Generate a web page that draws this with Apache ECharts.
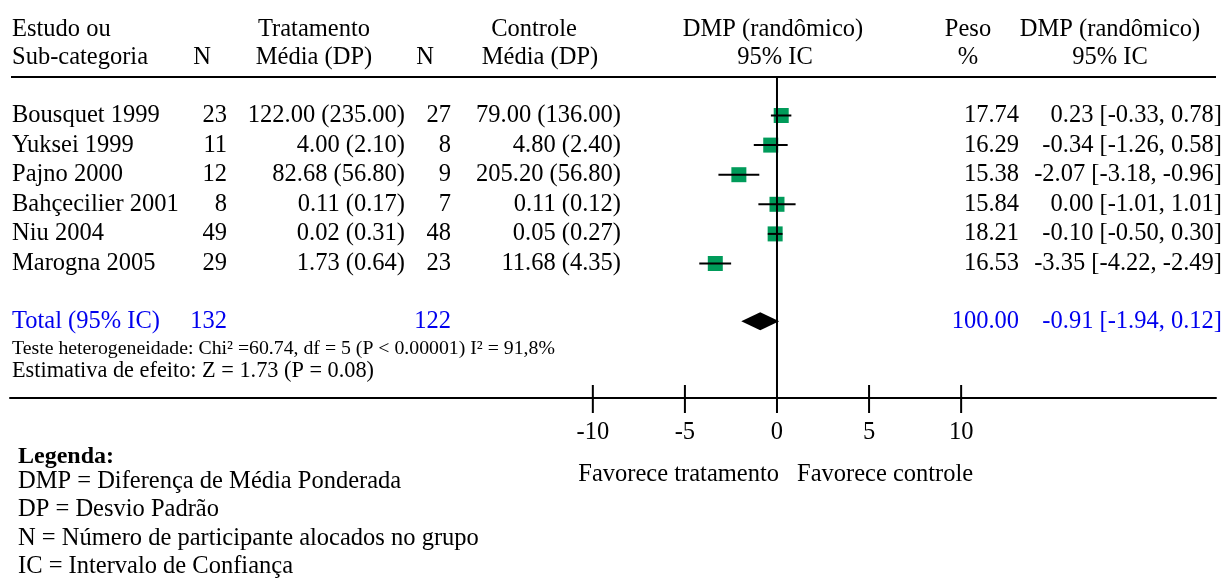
<!DOCTYPE html>
<html><head><meta charset="utf-8">
<script src="https://cdn.jsdelivr.net/npm/echarts@6/dist/echarts.min.js"></script>
<style>html,body{margin:0;padding:0;background:#fff}#c{width:1226px;height:580px}</style>
</head><body><div id="c"></div>
<script>
// ---------- data ----------
const studies   = ['Bousquet 1999','Yuksei 1999','Pajno 2000','Bahçecilier 2001','Niu 2004','Marogna 2005'];
const nTreat    = [23, 11, 12, 8, 49, 29];
const meanTreat = [122.00, 4.00, 82.68, 0.11, 0.02, 1.73];
const sdTreat   = [235.00, 2.10, 56.80, 0.17, 0.31, 0.64];
const nCtrl     = [27, 8, 9, 7, 48, 23];
const meanCtrl  = [79.00, 4.80, 205.20, 0.11, 0.05, 11.68];
const sdCtrl    = [136.00, 2.40, 56.80, 0.12, 0.27, 4.35];
const weights   = [17.74, 16.29, 15.38, 15.84, 18.21, 16.53];
const md        = [0.23, -0.34, -2.07, 0.00, -0.10, -3.35];
const ciLow     = [-0.33, -1.26, -3.18, -1.01, -0.50, -4.22];
const ciHigh    = [0.78, 0.58, -0.96, 1.01, 0.30, -2.49];
const totalLabel = 'Total (95% IC)';
const totalNTreat = 132, totalNCtrl = 122, totalWeight = 100.00;
const totalMd = -0.91, totalLow = -1.94, totalHigh = 0.12;
const tickValues = [-10, -5, 0, 5, 10];
const heterogeneityText = 'Teste heterogeneidade: Chi² =60.74, df = 5 (P < 0.00001) I² = 91,8%';
const effectText = 'Estimativa de efeito: Z = 1.73 (P = 0.08)';
const favorLeft = 'Favorece tratamento', favorRight = 'Favorece controle';
const legendTitle = 'Legenda:';
const legendLines = ['DMP = Diferença de Média Ponderada','DP = Desvio Padrão','N = Número de participante alocados no grupo','IC = Intervalo de Confiança'];

// ---------- layout / style ----------
const FF = '"Liberation Serif","Times New Roman",serif';
const FS = 24.5;
const f = (s, w) => (w ? w + ' ' : '') + s + 'px ' + FF;
const BLUE = '#0000EE', GREEN = '#009B5A';
const fx = v => v.toFixed(2);
const ciText = (m, l, h) => fx(m) + ' [' + fx(l) + ', ' + fx(h) + ']';
const TOTAL_ROW = 6.95;
const X_MIN = -41.65, X_MAX = 23.84;
const Y_MIN = -1.3007, Y_MAX = 9.5439;

const chart = echarts.init(document.getElementById('c'), null, {renderer: 'canvas'});

function txt(text, x, y, align, font, color) {
  return {type: 'text', x: x, y: y, silent: true,
    style: {text: text, align: align, verticalAlign: 'middle', font: font, fill: color || '#000'}};
}

const legendY = [482, 510, 539, 567];
const headers = [
  txt('Estudo ou', 12, 29.5, 'left', f(FS)),
  txt('Sub-categoria', 12, 57.5, 'left', f(FS)),
  txt('N', 202, 57.5, 'center', f(FS)),
  txt('Tratamento', 314, 29.5, 'center', f(FS)),
  txt('Média (DP)', 314, 57.5, 'center', f(FS)),
  txt('N', 425, 57.5, 'center', f(FS)),
  txt('Controle', 534, 29.5, 'center', f(FS)),
  txt('Média (DP)', 540, 57.5, 'center', f(FS)),
  txt('DMP (randômico)', 773, 29.5, 'center', f(FS)),
  txt('95% IC', 775, 57.5, 'center', f(FS)),
  txt('Peso', 968, 29.5, 'center', f(FS)),
  txt('%', 968, 57.5, 'center', f(FS)),
  txt('DMP (randômico)', 1110, 29.5, 'center', f(FS)),
  txt('95% IC', 1110, 57.5, 'center', f(FS)),
  {type: 'line', silent: true, shape: {x1: 11, y1: 77, x2: 1216, y2: 77}, style: {stroke: '#000', lineWidth: 2}},
  txt(heterogeneityText, 12, 348.5, 'left', f(19.8)),
  txt(effectText, 12, 371, 'left', f(22.3)),
  txt(favorLeft, 779, 475, 'right', f(FS)),
  txt(favorRight, 797, 475, 'left', f(FS)),
  txt(legendTitle, 18, 457, 'left', f(24, 'bold')),
].concat(legendLines.map((s, i) => txt(s, 18, legendY[i], 'left', f(FS))));

const rowData = studies.map((s, i) => [0, i]);
rowData.push([0, TOTAL_ROW]);

const option = {
  animation: false,
  backgroundColor: '#fff',
  grid: {left: 10, right: 10, top: 77, bottom: 182, containLabel: false},
  xAxis: {
    type: 'value', min: X_MIN, max: X_MAX,
    axisLine: {show: true, onZero: false, lineStyle: {color: '#000', width: 2}},
    axisTick: {show: false},
    splitLine: {show: false},
    axisLabel: {show: true, customValues: tickValues, margin: 22, color: '#000', fontSize: FS, fontFamily: FF,
      formatter: v => String(v)}
  },
  yAxis: {type: 'value', inverse: true, min: Y_MIN, max: Y_MAX, show: false},
  graphic: headers,
  series: [
    { // text columns
      type: 'custom', silent: true, z: 3,
      data: rowData,
      renderItem: function (params, api) {
        const i = api.value(1);
        const y = api.coord([0, i])[1];
        if (i === TOTAL_ROW) {
          return {type: 'group', children: [
            txt(totalLabel, 12, y, 'left', f(FS), BLUE),
            txt(String(totalNTreat), 227, y, 'right', f(FS), BLUE),
            txt(String(totalNCtrl), 451, y, 'right', f(FS), BLUE),
            txt(fx(totalWeight), 1019, y, 'right', f(FS), BLUE),
            txt(ciText(totalMd, totalLow, totalHigh), 1222, y, 'right', f(FS), BLUE)
          ]};
        }
        return {type: 'group', children: [
          txt(studies[i], 12, y, 'left', f(FS)),
          txt(String(nTreat[i]), 227, y, 'right', f(FS)),
          txt(fx(meanTreat[i]) + ' (' + fx(sdTreat[i]) + ')', 405, y, 'right', f(FS)),
          txt(String(nCtrl[i]), 451, y, 'right', f(FS)),
          txt(fx(meanCtrl[i]) + ' (' + fx(sdCtrl[i]) + ')', 621, y, 'right', f(FS)),
          txt(fx(weights[i]), 1019, y, 'right', f(FS)),
          txt(ciText(md[i], ciLow[i], ciHigh[i]), 1222, y, 'right', f(FS))
        ]};
      }
    },
    { // study squares + CI lines
      type: 'custom', silent: true, z: 4,
      data: md.map((m, i) => [m, i, ciLow[i], ciHigh[i]]),
      renderItem: function (params, api) {
        const p = api.coord([api.value(0), api.value(1)]);
        const l = api.coord([api.value(2), api.value(1)]);
        const h = api.coord([api.value(3), api.value(1)]);
        const s = 15;
        return {type: 'group', children: [
          {type: 'rect', shape: {x: p[0] - s / 2, y: p[1] - s / 2, width: s, height: s}, style: {fill: GREEN}},
          {type: 'line', shape: {x1: l[0], y1: l[1], x2: h[0], y2: h[1]}, style: {stroke: '#000', lineWidth: 2}}
        ]};
      }
    },
    { // pooled diamond
      type: 'custom', silent: true, z: 4,
      data: [[totalMd, TOTAL_ROW, totalLow, totalHigh]],
      renderItem: function (params, api) {
        const p = api.coord([api.value(0), api.value(1)]);
        const l = api.coord([api.value(2), api.value(1)]);
        const h = api.coord([api.value(3), api.value(1)]);
        const hh = 9;
        return {type: 'polygon', shape: {points: [[l[0], l[1]], [p[0], p[1] - hh], [h[0], h[1]], [p[0], p[1] + hh]]},
          style: {fill: '#000'}};
      }
    },
    { // zero line + axis ticks
      type: 'custom', silent: true, z: 5,
      data: tickValues.map(v => [v, Y_MAX]),
      renderItem: function (params, api) {
        const v = api.value(0);
        const b = api.coord([v, Y_MAX]);
        const top = v === 0 ? api.coord([v, Y_MIN])[1] : b[1] - 13;
        return {type: 'line', shape: {x1: b[0], y1: top, x2: b[0], y2: b[1] + 15}, style: {stroke: '#000', lineWidth: 2}};
      }
    }
  ]
};
chart.setOption(option);
</script>
</body></html>
